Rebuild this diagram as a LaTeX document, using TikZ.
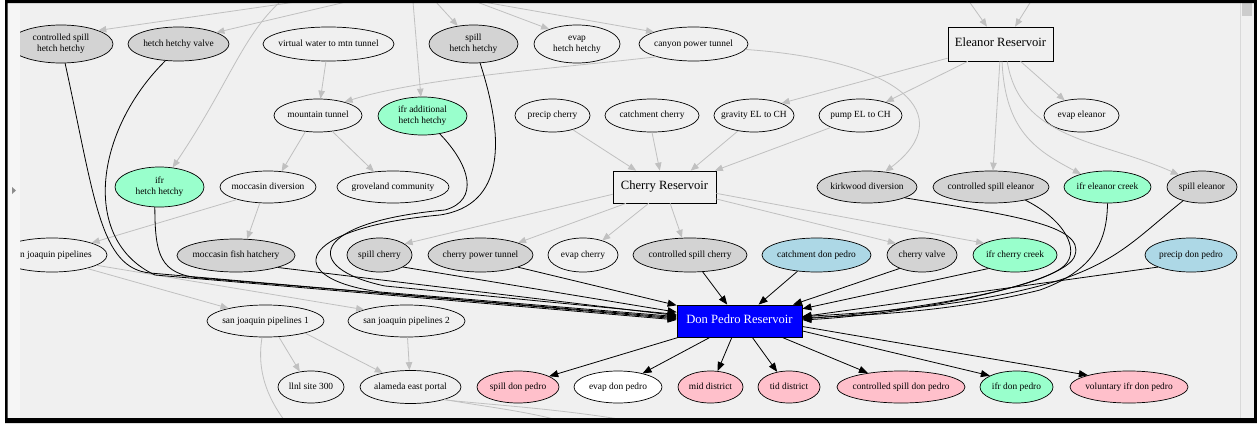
\documentclass[tikz,border=0pt]{standalone}
\usepackage{fontspec}
\setmainfont{Liberation Serif}
\usetikzlibrary{shapes.geometric,arrows.meta}
\definecolor{bgc}{HTML}{F0F0F0}
\definecolor{stripc}{HTML}{F6F6F6}
\definecolor{ndgray}{HTML}{D3D3D3}
\definecolor{ndgreen}{HTML}{99FFCC}
\definecolor{ndpink}{HTML}{FFC0CB}
\definecolor{ndblue}{HTML}{ADD8E6}
\definecolor{edgegray}{HTML}{C0C0C0}
\newcommand\nfnt{\fontsize{9.4}{10.6}\selectfont}
\newcommand\bfnt{\fontsize{12.6}{14}\selectfont}
\newcommand\zw[1]{\makebox[0pt]{\begin{tabular}{@{}c@{}}#1\end{tabular}}}
\tikzset{
  el/.style={ellipse, draw=black, line width=0.7pt, inner sep=0pt, font=\nfnt},
  gr/.style={el, fill=ndgray},
  gn/.style={el, fill=ndgreen},
  pk/.style={el, fill=ndpink},
  lb/.style={el, fill=ndblue},
  bx/.style={rectangle, draw=black, line width=0.7pt, inner sep=0pt, font=\bfnt},
  sz/.style n args={2}{minimum width=#1pt, minimum height=#2pt},
  ge/.style={draw=edgegray, line width=0.8pt, -{Triangle[length=8pt,width=6.5pt]}},
  be/.style={draw=black, line width=0.8pt, -{Triangle[length=9pt,width=7pt]}},
}
\begin{document}
\begin{tikzpicture}[x=1pt,y=-1pt]
\useasboundingbox (0,0) rectangle (1257,423);
\fill[white] (0,0) rectangle (1257,423);
\fill[bgc] (7,3) rectangle (1254,418);
\fill[stripc] (7,3) rectangle (20,418);
\fill[black!45] (12,187) -- (16,190.5) -- (12,194) -- cycle;
\fill[bgc] (1240,3) rectangle (1254,418);
\draw[black!15, line width=0.8pt] (1240,3) -- (1240,418);
\fill[black!20] (1242,3) rectangle (1252,16);
\begin{scope}
\clip (20,3) rectangle (1239.5,418);
% nodes
\node[gr, sz={104}{38}] (cpshh) at (61,44) {\zw{controlled spill\\hetch hetchy}};
\node[gr, sz={101}{34}] (hhv) at (178.5,44) {\zw{hetch hetchy valve}};
\node[el, sz={131}{34}] (vw) at (328.5,44) {\zw{virtual water to mtn tunnel}};
\node[gr, sz={89}{38}] (shh) at (473.5,44) {\zw{spill\\hetch hetchy}};
\node[el, sz={86}{38}] (ehh) at (577,44) {\zw{evap\\hetch hetchy}};
\node[el, sz={109}{34}] (cpt) at (693.5,44) {\zw{canyon power tunnel}};
\node[bx, sz={105}{34}] (ER) at (1000.5,44) {\zw{Eleanor Reservoir}};
\node[el, sz={88}{33}] (mt) at (318,115.5) {\zw{mountain tunnel}};
\node[gn, sz={89}{38}] (ifrahh) at (422.5,116) {\zw{ifr additional\\hetch hetchy}};
\node[el, sz={75}{33}] (pc) at (552.5,115.5) {\zw{precip cherry}};
\node[el, sz={94}{33}] (cc) at (652,115.5) {\zw{catchment cherry}};
\node[el, sz={80}{33}] (gel) at (754,115.5) {\zw{gravity EL to CH}};
\node[el, sz={83}{33}] (pel) at (860.5,115.5) {\zw{pump EL to CH}};
\node[el, sz={75}{33}] (ee) at (1081.5,115.5) {\zw{evap eleanor}};
\node[gn, sz={89}{40}] (ifrhh) at (159.5,187) {\zw{ifr\\hetch hetchy}};
\node[el, sz={96}{32}] (md) at (268,187) {\zw{moccasin diversion}};
\node[el, sz={112}{32}] (gc) at (393,187) {\zw{groveland community}};
\node[bx, sz={103}{32}] (CR) at (664.5,187) {\zw{Cherry Reservoir}};
\node[gr, sz={100}{32}] (kd) at (867,187) {\zw{kirkwood diversion}};
\node[gr, sz={116}{32}] (cse) at (991,187) {\zw{controlled spill eleanor}};
\node[gn, sz={87}{32}] (ifrec) at (1107.5,187) {\zw{ifr eleanor creek}};
\node[gr, sz={70}{32}] (se) at (1202,187) {\zw{spill eleanor}};
\node[el, sz={110}{34}] (sjp) at (52,255) {\zw{san joaquin pipelines}};
\node[gr, sz={118}{33}] (mfh) at (236,255.5) {\zw{moccasin fish hatchery}};
\node[gr, sz={65}{34}] (sc) at (379.5,255) {\zw{spill cherry}};
\node[gr, sz={105}{34}] (cpwt) at (480.5,255) {\zw{cherry power tunnel}};
\node[el, sz={70}{34}] (ec) at (583,255) {\zw{evap cherry}};
\node[gr, sz={114}{34}] (csc) at (690,255) {\zw{controlled spill cherry}};
\node[lb, sz={109}{34}] (cdp) at (816.5,255) {\zw{catchment don pedro}};
\node[gr, sz={70}{34}] (cv) at (922,255) {\zw{cherry valve}};
\node[gn, sz={84}{34}] (ifrcc) at (1015,255) {\zw{ifr cherry creek}};
\node[lb, sz={92}{34}] (pdp) at (1191,255) {\zw{precip don pedro}};
\node[bx, fill=blue, text=white, sz={125}{32}] (DP) at (739.5,321) {\zw{Don Pedro Reservoir}};
\node[el, sz={117}{32}] (sjp1) at (265.5,321) {\zw{san joaquin pipelines 1}};
\node[el, sz={117}{32}] (sjp2) at (406.5,321) {\zw{san joaquin pipelines 2}};
\node[el, sz={66}{32}] (llnl) at (311,387) {\zw{llnl site 300}};
\node[el, sz={101}{33}] (aep) at (410.5,387) {\zw{alameda east portal}};
\node[pk, sz={82}{32}] (sdp) at (518,387) {\zw{spill don pedro}};
\node[el, fill=white, sz={88}{32}] (edp) at (618,387) {\zw{evap don pedro}};
\node[pk, sz={65}{32}] (mid) at (710.5,387) {\zw{mid district}};
\node[pk, sz={62}{32}] (tid) at (789,387) {\zw{tid district}};
\node[pk, sz={128}{32}] (csdp) at (901,387) {\zw{controlled spill don pedro}};
\node[gn, sz={73}{32}] (ifrdp) at (1016.5,387) {\zw{ifr don pedro}};
\node[pk, sz={118}{32}] (vidp) at (1129,387) {\zw{voluntary ifr don pedro}};
% free ends off the canvas
\coordinate (t1) at (379,-10);
\coordinate (t2) at (397,-10);
\coordinate (t3) at (295,-10);
\coordinate (t4) at (412,-10);
\coordinate (t5) at (425,-10);
\coordinate (t6) at (445,-10);
\coordinate (t7) at (415,-10);
\coordinate (t8) at (961,-10);
\coordinate (t9) at (1038,-10);
\coordinate (b1) at (300,440);
\coordinate (b2) at (610,440);
\coordinate (b3) at (710,440);
% gray edges
\draw[ge] (t1) -- (cpshh.20);
\draw[ge] (t2) -- (hhv.17);
\draw[ge] (t3) .. controls (245,25) and (235,75) .. (ifrhh.56);
\draw[ge] (t4) -- (ifrahh);
\draw[ge] (t5) -- (shh.131);
\draw[ge] (t6) -- (ehh.152);
\draw[ge] (t7) -- (cpt.163);
\draw[ge] (t8) -- (ER.128);
\draw[ge] (t9) -- (ER.50);
\draw[ge] (vw) -- (mt);
\draw[ge] (mt.-128) -- (md.49);
\draw[ge] (mt.-48) -- (gc.141);
\draw[ge] (cpt.-161) .. controls (560,68) and (420,78) .. (mt.27);
\draw[ge] (cpt.-6) .. controls (900,60) and (960,115) .. (kd.40);
\draw[ge] (pc.-35) -- (CR.150);
\draw[ge] (cc.-90) -- (CR.106);
\draw[ge] (gel.-136) -- (CR.32);
\draw[ge] (pel.-158) -- (CR.18);
\draw[ge] (ER.-165) -- (gel.24.5);
\draw[ge] (ER.-152) -- (pel.28);
\draw[ge] (ER.-92) -- (cse.83);
\draw[ge] (ER.-41) -- (ee.138);
\draw[ge] (ER.-85) .. controls (1005,130) and (1035,150) .. (ifrec.154);
\draw[ge] (ER.-69) .. controls (1020,140) and (1100,140) .. (se.152);
\draw[ge] (CR.-172) -- (sc.24);
\draw[ge] (CR.-157) -- (cpwt.18);
\draw[ge] (CR.-134) -- (ec.37);
\draw[ge] (CR.-71) -- (csc.115);
\draw[ge] (CR.-13) -- (cv.156);
\draw[ge] (CR.-7.7) -- (ifrcc.159);
\draw[ge] (md.-158.5) -- (sjp.17.6);
\draw[ge] (md.-117) -- (mfh.56);
\draw[ge] (sjp.-21.5) -- (sjp1.161);
\draw[ge] (sjp.-13.7) -- (sjp2.165);
\draw[ge] (sjp1.-50) -- (llnl.126);
\draw[ge] (sjp1.-17) -- (aep.153);
\draw[ge] (sjp2) -- (aep);
\draw[ge] (sjp1.-102) .. controls (255,380) and (275,410) .. (b1);
\draw[ge] (aep.-20) .. controls (490,408) and (560,414) .. (b2);
\draw[ge] (aep.-21) .. controls (500,406) and (620,412) .. (b3);
% black edges into Don Pedro
\draw[be] (cpshh.-78) .. controls (95,200) and (100,268) .. (150,273) -- (DP.178);
\draw[be] (hhv.-128) .. controls (95,130) and (80,240) .. (155,275) -- (DP.179);
\draw[be] (ifrhh.-103) .. controls (155,255) and (160,274) .. (200,278) -- (DP.177);
\draw[be] (mfh.-16) -- (DP.175);
\draw[be] (shh.-71) .. controls (505,140) and (505,205) .. (440,215) .. controls (295,228) and (280,278) .. (380,292) -- (DP.176);
\draw[be] (ifrahh.-46) .. controls (470,165) and (480,200) .. (445,210) .. controls (310,222) and (300,268) .. (385,286) -- (DP.174);
\draw[be] (sc.-27) -- (DP.172);
\draw[be] (cpwt.-18) -- (DP.166.5);
\draw[be] (csc) -- (DP);
\draw[be] (cdp) -- (DP);
\draw[be] (cv.-149) -- (DP.17.6);
\draw[be] (ifrcc.-153) -- (DP.11.7);
\draw[be] (pdp.-160) -- (DP.4.6);
\draw[be] (kd.-16) .. controls (1010,215) and (1085,225) .. (1075,255) .. controls (1068,285) and (900,315) .. (DP.1);
\draw[be] (cse.-21) .. controls (1065,220) and (1080,250) .. (1065,265) .. controls (1040,290) and (900,312) .. (DP.2);
\draw[be] (ifrec.-90) .. controls (1107,240) and (1095,270) .. (1040,290) .. controls (960,310) and (880,315) .. (DP.3);
\draw[be] (se.-144) .. controls (1140,235) and (1120,260) .. (1060,280) .. controls (980,305) and (880,312) .. (DP.4);
% black edges out of Don Pedro
\draw[be] (DP.-165) -- (sdp.19.4);
\draw[be] (DP.-151.5) -- (edp.29);
\draw[be] (DP.-115) -- (mid.66.6);
\draw[be] (DP.-52) -- (tid.128.7);
\draw[be] (DP.-21.6) -- (csdp.157.6);
\draw[be] (DP.-9) -- (ifrdp.157);
\draw[be] (DP.-5.5) -- (vidp.164.7);
\end{scope}
% window frame
\fill[black, even odd rule] (5,0) rectangle (1257,423) (7.5,3) rectangle (1254,418);
\end{tikzpicture}
\end{document}
